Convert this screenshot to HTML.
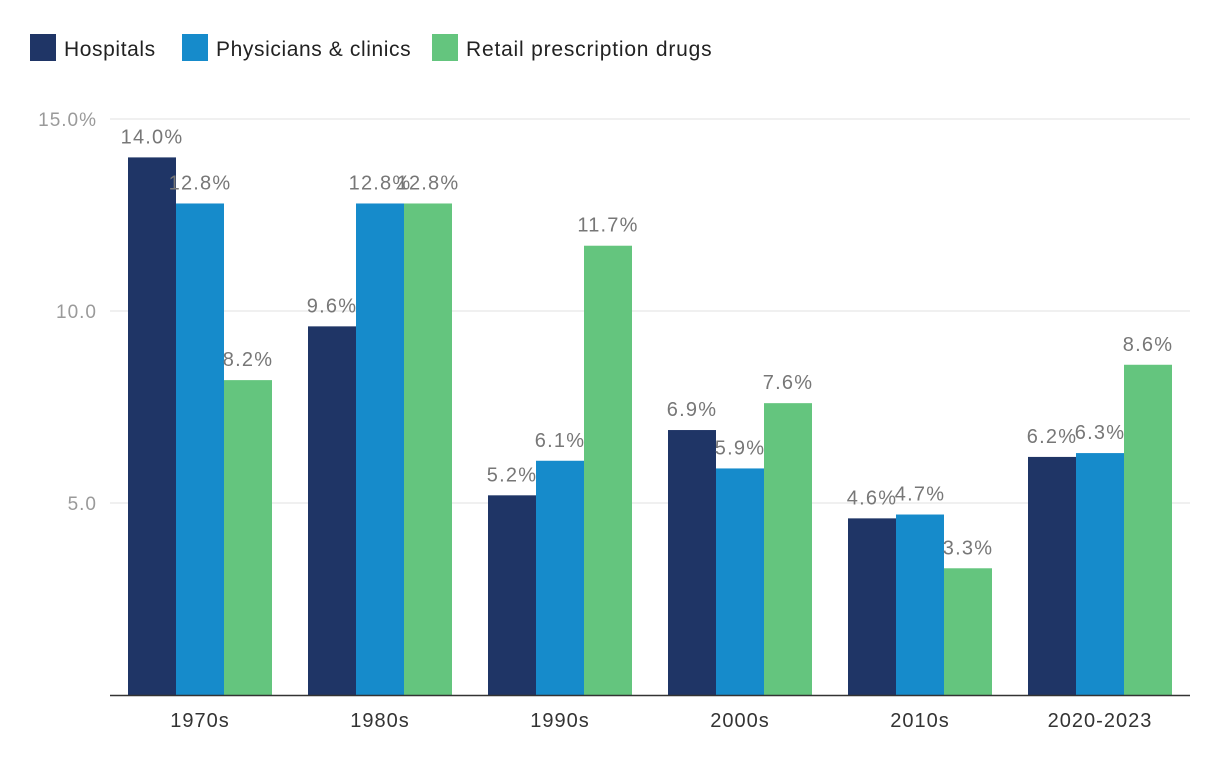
<!DOCTYPE html>
<html><head><meta charset="utf-8"><style>
body{margin:0;background:#fff;font-family:"Liberation Sans",sans-serif;}
</style></head><body>
<svg id="c" width="1220" height="770" style="display:block">
<g>
<rect x="30" y="34" width="26" height="27" fill="#1f3566"/>
<text x="64" y="56" font-size="21" letter-spacing="0.6" fill="#222">Hospitals</text>
<rect x="182" y="34" width="26" height="27" fill="#168bcb"/>
<text x="216" y="56" font-size="21" letter-spacing="0.6" fill="#222">Physicians &amp; clinics</text>
<rect x="432" y="34" width="26" height="27" fill="#64c57e"/>
<text x="466" y="56" font-size="21" letter-spacing="0.8" fill="#222">Retail prescription drugs</text>
</g>
<g id="grid"></g><g id="bars"></g><g id="labels"></g>
</svg>
<script>
const categories=["1970s","1980s","1990s","2000s","2010s","2020-2023"];
const hospitals=[14.0,9.6,5.2,6.9,4.6,6.2];
const physicians=[12.8,12.8,6.1,5.9,4.7,6.3];
const retail=[8.2,12.8,11.7,7.6,3.3,8.6];
const yTicks=[5,10,15];
const yTickLabels=["5.0","10.0","15.0%"];
const series=[{name:"hospitals",v:hospitals,c:"#1f3566"},{name:"physicians",v:physicians,c:"#168bcb"},{name:"retail",v:retail,c:"#64c57e"}];
const NS="http://www.w3.org/2000/svg";
const y0=695,pxPer=38.4,left=110,gw=180,bw=48,pad=18;
const y=v=>y0-v*pxPer;
const gx=i=>left+i*gw;
function mk(t,a,p){const e=document.createElementNS(NS,t);for(const k in a)e.setAttribute(k,a[k]);p.appendChild(e);return e;}
const grid=document.getElementById('grid'),bars=document.getElementById('bars'),labels=document.getElementById('labels');
yTicks.forEach((t,i)=>{
 const l=mk('line',{x1:left,x2:1190,y1:y(t),y2:y(t),stroke:'#e2e2e2','stroke-width':1},grid);
 
 
 const tx=mk('text',{x:97,y:y(t)+7,'font-size':19,'letter-spacing':1,fill:'#9a9a9a','text-anchor':'end'},grid);
 tx.textContent=yTickLabels[i];
 
 
});
categories.forEach((c,i)=>{
 series.forEach((s,j)=>{
  const x=gx(i)+pad+j*bw,v=s.v[i];
  const r=mk('rect',{x:x,y:y(v),width:bw,height:y0-y(v),fill:s.c},bars);
  
  
  const t=mk('text',{x:x+bw/2,y:y(v)-14,'font-size':20,'letter-spacing':1.2,fill:'#777','text-anchor':'middle'},labels);
  t.textContent=v.toFixed(1)+'%';
  
  
 });
 const xl=mk('text',{x:gx(i)+gw/2,y:727,'font-size':20,'letter-spacing':1,fill:'#333','text-anchor':'middle'},labels);
 xl.textContent=c;
 
 
});
const ax=mk('line',{x1:left,x2:1190,y1:y0+0.5,y2:y0+0.5,stroke:'#333','stroke-width':1.5},labels);


</script>
</body></html>
